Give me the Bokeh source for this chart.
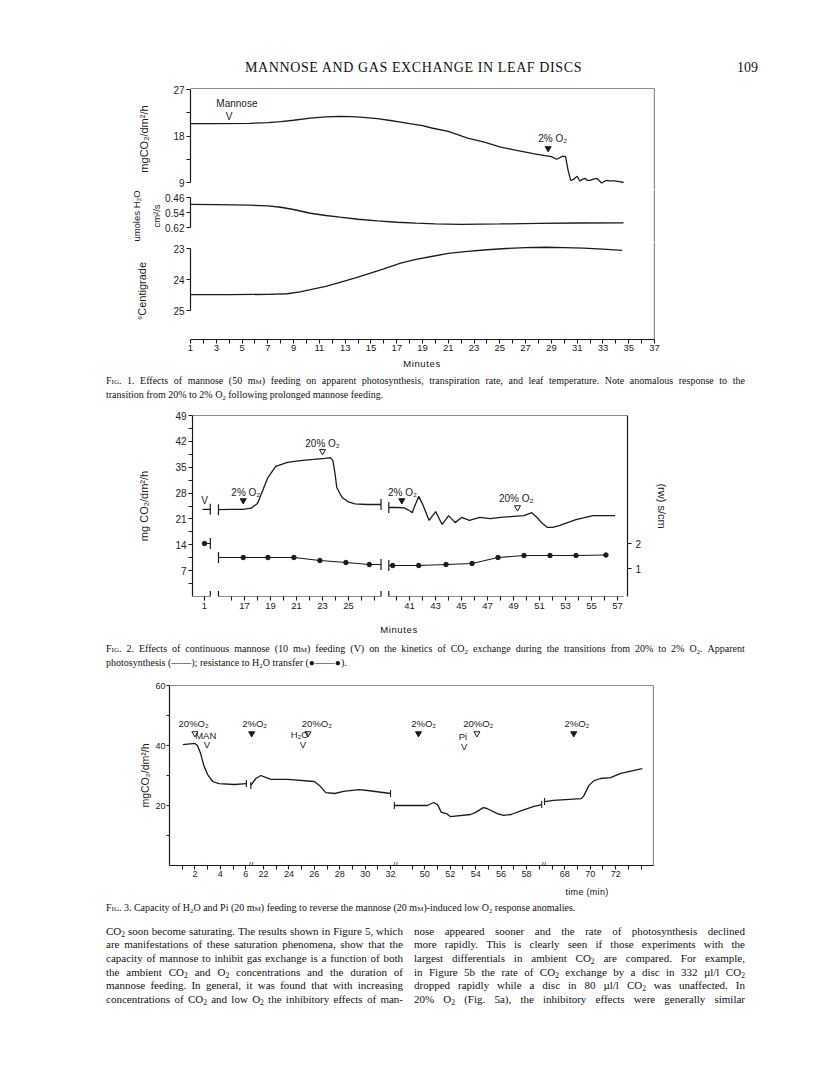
import numpy as np
from bokeh.plotting import figure
from bokeh.models import Range1d, LinearAxis, FixedTicker, Span, Div
from bokeh.layouts import column
from bokeh.embed import file_html
from bokeh.resources import INLINE
from bokeh.core.properties import value

INK = "#1b1b1b"
CF = "Liberation Sans"

# ---------------- Fig. 1 data (minutes) ----------------
f1_co2_min = [1, 3, 5.6, 7, 8, 9, 10.3, 11.5, 12.6, 13.5, 14.4, 15.5, 16.5, 17.3, 18, 19, 19.8, 21, 22.5, 23.8,
              25, 26.3, 27.6, 28.5, 29.0, 29.4, 29.9, 30.1, 30.3, 30.5, 30.7, 31.0, 31.2, 31.4, 31.6, 31.8, 32.0,
              32.2, 32.5, 32.7, 32.9, 33.1, 33.3, 33.5, 33.8, 34.2, 34.6]
f1_co2_val = [20.4, 20.4, 20.45, 20.6, 20.8, 21.05, 21.45, 21.7, 21.8, 21.75, 21.6, 21.35, 21.0, 20.7, 20.4, 20.0,
              19.5, 18.9, 17.6, 16.8, 15.9, 15.2, 14.6, 14.2, 14.0, 13.5, 14.1, 14.0, 11.3, 9.4, 9.6, 10.2, 9.3,
              9.6, 9.8, 9.4, 9.4, 9.6, 9.8, 9.4, 8.9, 9.2, 9.4, 9.3, 9.3, 9.2, 9.0]
f1_h2o_min = [1, 3, 5.6, 7, 8, 9, 10.3, 11.5, 12.6, 14, 15.5, 17, 18.5, 20, 22, 25, 28, 31, 34.6]
f1_h2o_val = [0.497, 0.498, 0.501, 0.505, 0.512, 0.524, 0.544, 0.556, 0.565, 0.576, 0.585, 0.592, 0.597, 0.601,
              0.603, 0.601, 0.598, 0.596, 0.595]
f1_temp_min = [1, 4, 7, 8.5, 9.5, 10.3, 11.5, 12.6, 13.8, 14.9, 16, 17.3, 18.5, 19.8, 21, 22.5, 24, 25.5, 27,
               28.6, 30, 31.5, 33, 34.5]
f1_temp_val = [24.49, 24.49, 24.48, 24.46, 24.40, 24.33, 24.22, 24.09, 23.95, 23.80, 23.66, 23.47, 23.35, 23.25,
               23.16, 23.09, 23.04, 23.0, 22.97, 22.96, 22.97, 22.99, 23.02, 23.06]
f1_x_labeled = list(range(1, 38, 2))
f1_x_minor = list(range(2, 37, 2))
f1_co2_ticks = [9, 18, 27]
f1_co2_minor = [13.5, 22.5]
f1_h2o_ticks = [0.46, 0.54, 0.62]
f1_temp_ticks = [23, 24, 25]
f1_note_text = ["Mannose", "V", "2% O₂"]
f1_note_min = [4.6, 4.0, 29.1]
f1_note_co2 = [24.3, 21.8, 17.5]
f1_o2_drop_min = [28.75]
f1_o2_drop_co2 = [15.6]

# ---------------- Fig. 2 data (minutes) ----------------
f2_photo_A_min = [0.85, 1.45]
f2_photo_A_val = [23.6, 23.6]
f2_photo_B_min = [15.0, 16.0, 16.9, 17.5, 18.0, 18.4, 18.8, 19.4, 20.3, 21.3, 22.3, 23.2, 23.6, 23.8, 23.95, 24.1,
                  24.5, 25.0, 25.5, 26.4, 27.5]
f2_photo_B_val = [23.5, 23.6, 23.6, 23.9, 25.2, 28.7, 32.2, 35.2, 36.3, 36.8, 37.1, 37.4, 37.6, 36.8, 33.6, 29.5,
                  26.8, 25.6, 25.1, 24.9, 24.9]
f2_photo_C_min = [39.4, 40.0, 40.6, 41.0, 41.2, 41.45, 41.7, 42.0, 42.5, 43.0, 43.5, 44.0, 44.5, 45.0, 45.6, 46.4,
                  47.2, 48.0, 49.0, 49.8, 50.4, 50.8, 51.2, 51.6, 52.0, 52.5, 53.8, 55.1, 56.8]
f2_photo_C_val = [24.1, 24.1, 24.0, 23.2, 22.7, 25.0, 27.1, 25.0, 20.6, 23.0, 19.5, 21.9, 20.0, 21.4, 20.6, 21.4,
                  21.1, 21.4, 21.7, 21.9, 22.7, 21.4, 19.8, 18.7, 18.7, 19.2, 20.8, 21.9, 21.9]
f2_res_A_min = [1.0]
f2_res_A_val = [2.0]
f2_res_B_min = [16.9, 18.8, 20.8, 22.8, 24.8, 26.6]
f2_res_B_val = [1.44, 1.44, 1.44, 1.32, 1.24, 1.16]
f2_res_C_min = [39.7, 41.7, 43.8, 45.8, 47.8, 49.8, 51.8, 53.8, 56.1]
f2_res_C_val = [1.12, 1.12, 1.16, 1.2, 1.44, 1.52, 1.52, 1.52, 1.54]
f2_y_ticks = [7, 14, 21, 28, 35, 42, 49]
f2_y_minor = [3.5, 10.5, 17.5, 24.5, 31.5, 38.5, 45.5]
f2_r_ticks = [1, 2]
f2_x_labeled = [1, 17, 19, 21, 23, 25, 41, 43, 45, 47, 49, 51, 53, 55, 57]
f2_x_minor = [16, 18, 20, 22, 24, 26, 27, 40, 42, 44, 46, 48, 50, 52, 54, 56]
f2_note_text = ["V", "2% O₂", "20% O₂", "2% O₂", "20% O₂"]
f2_note_min = [1.0, 17.1, 23.0, 40.45, 49.2]
f2_note_val = [26.0, 28.2, 41.4, 28.2, 26.5]
f2_closed_min = [16.9, 40.4]
f2_closed_val = [26.0, 26.0]
f2_open_min = [23.0, 49.3]
f2_open_val = [39.3, 24.1]

# ---------------- Fig. 3 data (minutes) ----------------
f3_s1_min = [1.05, 2.0, 2.2, 2.45, 2.7, 3.0, 3.4, 3.9, 5.1, 6.05]
f3_s1_val = [40.3, 40.7, 40.0, 37.3, 33.3, 30.3, 28.0, 27.3, 27.0, 27.3]
f3_s2_min = [21.0, 21.4, 21.8, 22.2, 22.6, 23.9, 26.0, 26.4, 26.9, 27.6, 28.3, 29.5, 30.2, 32.0]
f3_s2_val = [26.7, 29.0, 30.0, 29.3, 28.7, 28.7, 28.0, 26.7, 24.3, 24.0, 24.7, 25.3, 25.0, 24.0]
f3_s3_min = [47.6, 49.1, 50.2, 50.7, 51.0, 51.3, 51.7, 52.0, 53.6, 54.0, 54.6, 54.9, 55.7, 56.2, 56.8, 57.6,
             58.6, 59.2]
f3_s3_val = [20.0, 20.0, 20.0, 21.0, 20.3, 17.7, 17.3, 16.3, 17.0, 17.7, 19.3, 19.0, 17.3, 16.7, 17.0, 18.3,
             19.7, 20.3]
f3_s4_min = [66.4, 67.1, 69.3, 69.5, 69.9, 70.3, 70.8, 71.6, 72.4, 74.1]
f3_s4_val = [21.3, 21.7, 22.3, 23.3, 26.7, 28.3, 29.0, 29.3, 30.7, 32.3]
f3_y_ticks = [20, 40, 60]
f3_y_minor = [10, 30, 50]
f3_x_labeled = [2, 4, 6, 22, 24, 26, 28, 30, 32, 50, 52, 54, 56, 58, 68, 70, 72]
f3_x_minor = [1, 3, 5, 23, 25, 27, 29, 31, 49, 51, 53, 55, 57, 59, 67, 69, 71, 73, 74]
f3_note_text = ["20%O₂", "MAN", "V", "2%O₂", "20%O₂", "H₂O", "V", "2%O₂", "20%O₂", "Pi", "V", "2%O₂"]
f3_note_min = [1.9, 2.85, 2.95, 21.3, 26.2, 24.85, 25.1, 49.9, 54.2, 53.0, 53.1, 68.95]
f3_note_val = [47.3, 43.3, 40.5, 47.3, 47.3, 43.8, 40.2, 47.3, 47.3, 43.0, 39.7, 47.3]
f3_closed_min = [21.07, 49.5, 68.7]
f3_closed_val = [44.0, 44.0, 44.0]
f3_open_min = [2.0, 25.5, 54.1]
f3_open_val = [44.0, 44.0, 44.0]

# ---------------- layout helpers ----------------
def span_range(v1, p1, v2, p2, top, bot):
    k = (p2 - p1) / (v2 - v1)
    return Range1d(start=v1 + (bot - p1) / k, end=v1 + (top - p1) / k)


def to_xp(ms, lo, hi, shift):
    out = []
    for m in ms:
        for a, b, s in zip(lo, hi, shift):
            if a - 0.6 <= m <= b + 0.6:
                out.append(round(m - s, 4))
                break
        else:
            raise ValueError(m)
    return out


def base_fig(w, h, l, r, t, b, xr, yr):
    p = figure(width=w, height=h, x_range=xr, y_range=yr, min_border_left=l, min_border_right=r,
               min_border_top=t, min_border_bottom=b, x_axis_location=None, y_axis_location=None,
               toolbar_location=None, tools="", output_backend="svg", margin=0)
    p.frame_align = False
    p.outline_line_color = None
    p.grid.visible = False
    p.background_fill_color = "white"
    p.border_fill_color = "white"
    return p


def style_axis(ax, fs="10px", afs="11px", tick=4, standoff=2, astand=4):
    ax.major_label_text_font = CF
    ax.major_label_text_font_size = fs
    ax.major_label_text_color = INK
    ax.major_tick_out = tick
    ax.major_tick_in = 0
    ax.minor_tick_out = tick
    ax.minor_tick_in = 0
    ax.major_tick_line_color = INK
    ax.minor_tick_line_color = INK
    ax.major_tick_line_width = 1.1
    ax.minor_tick_line_width = 1.1
    ax.axis_line_color = INK
    ax.axis_line_width = 1.2
    ax.major_label_standoff = standoff
    ax.axis_label_text_font = CF
    ax.axis_label_text_font_style = "normal"
    ax.axis_label_text_font_size = afs
    ax.axis_label_text_color = INK
    ax.axis_label_standoff = astand


def notes(p, xs, ys, texts, size="10px", **kw):
    p.text(x=xs, y=ys, text=texts, text_align="center", text_baseline="middle",
           text_font=value(CF), text_font_size=size, text_color=INK, **kw)


def border(p, loc, dim):
    p.add_layout(Span(location=loc, dimension=dim, line_color=INK, line_width=1.2))


LW = 1.3
W = 808

# ================= FIG 1 (three stacked panels sharing x) =================
x1 = Range1d(1, 37)
# panel a: CO2 exchange, frame rows 88..189
p1a = base_fig(W, 109, 190, 154, 8, 0, x1, span_range(27, 89, 9, 182, 88, 189))
ax = LinearAxis(bounds=(9, 27), ticker=FixedTicker(ticks=f1_co2_ticks, minor_ticks=f1_co2_minor),
                axis_label="mgCO₂/dm²/h")
style_axis(ax, astand=20)
p1a.add_layout(ax, "left")
border(p1a, p1a.y_range.end, "width")
border(p1a, 37, "height")
p1a.line(f1_co2_min, f1_co2_val, line_color=INK, line_width=LW)
notes(p1a, f1_note_min, f1_note_co2, f1_note_text)
p1a.scatter(f1_o2_drop_min, f1_o2_drop_co2, marker="inverted_triangle", size=6, color=INK)

# panel b: transpiration, frame rows 189..242
p1b = base_fig(W, 53, 190, 154, 0, 0, x1, span_range(0.46, 197, 0.62, 227, 189, 242))
ax = LinearAxis(bounds=(0.46, 0.62), ticker=FixedTicker(ticks=f1_h2o_ticks), axis_label="umoles H₂O\ncm²/s")
style_axis(ax, afs="9.5px", astand=0)
ax.axis_label_text_line_height = 1.8
p1b.add_layout(ax, "left")
border(p1b, 37, "height")
p1b.line(f1_h2o_min, f1_h2o_val, line_color=INK, line_width=LW)

# panel c: leaf temperature, frame rows 242..339 + x axis
p1c = base_fig(W, 115, 190, 154, 0, 18, x1, span_range(23, 248, 25, 310, 242, 339))
ax = LinearAxis(bounds=(23, 25), ticker=FixedTicker(ticks=f1_temp_ticks), axis_label="°Centigrade")
style_axis(ax, astand=22)
p1c.add_layout(ax, "left")
ax = LinearAxis(ticker=FixedTicker(ticks=f1_x_labeled, minor_ticks=f1_x_minor))
style_axis(ax, fs="9.5px", standoff=1)
p1c.add_layout(ax, "below")
border(p1c, 37, "height")
p1c.line(f1_temp_min, f1_temp_val, line_color=INK, line_width=LW)

# ================= FIG 2 =================
f2_lo = [0.08, 15.0, 39.4]
f2_hi = [1.45, 27.5, 57.46]
f2_shift = [-12.92, 0.0, 11.3]


def xp2(ms):
    return to_xp(ms, f2_lo, f2_hi, f2_shift)


p2 = base_fig(W, 216, 192, 181, 11, 24, Range1d(13.0, 46.46), Range1d(0, 49))
p2.extra_y_ranges = {"res": span_range(1, 568, 2, 543, 415, 596)}

ax = LinearAxis(bounds=(0, 49), ticker=FixedTicker(ticks=f2_y_ticks, minor_ticks=f2_y_minor),
                axis_label="mg CO₂/dm²/h")
style_axis(ax, astand=22)
p2.add_layout(ax, "left")
ax = LinearAxis(y_range_name="res", ticker=FixedTicker(ticks=f2_r_ticks), axis_label="(rw) s/cm")
style_axis(ax, standoff=4, astand=12)
p2.add_layout(ax, "right")
xt = xp2(f2_x_labeled)
ax = LinearAxis(ticker=FixedTicker(ticks=xt, minor_ticks=xp2(f2_x_minor)),
                major_label_overrides={t: str(m) for t, m in zip(xt, f2_x_labeled)})
style_axis(ax, fs="9.5px", standoff=2)
ax.axis_line_color = None
p2.add_layout(ax, "below")
border(p2, 49, "width")

p2.segment(x0=xp2(f2_lo), y0=[0] * 3, x1=xp2(f2_hi), y1=[0] * 3, line_color=INK, line_width=1.2)
brk_m = [f2_hi[0], f2_lo[1], f2_hi[1], f2_lo[2]]
p2.scatter(xp2(brk_m), [0] * 4, marker="dash", angle=np.pi / 2, size=11, line_color=INK, line_width=1.2)

for ms, vs in [(f2_photo_A_min, f2_photo_A_val), (f2_photo_B_min, f2_photo_B_val),
               (f2_photo_C_min, f2_photo_C_val)]:
    p2.line(xp2(ms), vs, line_color=INK, line_width=LW)
p2.scatter(xp2([f2_photo_A_min[-1], f2_photo_B_min[0], f2_photo_B_min[-1], f2_photo_C_min[0]]),
           [f2_photo_A_val[-1], f2_photo_B_val[0], f2_photo_B_val[-1], f2_photo_C_val[0]],
           marker="dash", angle=np.pi / 2, size=11, line_color=INK, line_width=1.2)

rA_x = f2_res_A_min + [f2_hi[0]]
rA_y = f2_res_A_val + [f2_res_A_val[-1]]
rB_x = [f2_lo[1]] + f2_res_B_min + [f2_hi[1]]
rB_y = [f2_res_B_val[0]] + f2_res_B_val + [f2_res_B_val[-1]]
rC_x = [f2_lo[2]] + f2_res_C_min
rC_y = [f2_res_C_val[0]] + f2_res_C_val
for xs, ys in [(rA_x, rA_y), (rB_x, rB_y), (rC_x, rC_y)]:
    p2.line(xp2(xs), ys, line_color=INK, line_width=1.2, y_range_name="res")
p2.scatter(xp2(f2_res_A_min + f2_res_B_min + f2_res_C_min), f2_res_A_val + f2_res_B_val + f2_res_C_val,
           marker="circle", size=4.5, color=INK, y_range_name="res")
p2.scatter(xp2([rA_x[-1], rB_x[0], rB_x[-1], rC_x[0]]), [rA_y[-1], rB_y[0], rB_y[-1], rC_y[0]],
           marker="dash", angle=np.pi / 2, size=11, line_color=INK, line_width=1.2, y_range_name="res")

notes(p2, xp2(f2_note_min), f2_note_val, f2_note_text)
p2.scatter(xp2(f2_closed_min), f2_closed_val, marker="inverted_triangle", size=6, color=INK)
p2.scatter(xp2(f2_open_min), f2_open_val, marker="inverted_triangle", size=6, fill_color=None,
           line_color=INK, line_width=1)

# ================= FIG 3 =================
f3_lo = [0.0, 20.5, 47.3, 66.0]
f3_hi = [6.3, 32.4, 59.5, 75.0]
f3_shift = [0.0, 14.6, 29.9, 36.88]
f3_breaks = [6.4, 17.75, 29.45]  # x positions of the '//' marks


def xp3(ms):
    return to_xp(ms, f3_lo, f3_hi, f3_shift)


p3 = base_fig(W, 208, 169, 155, 9, 19, Range1d(0, 38.1), Range1d(0, 60))
ax = LinearAxis(bounds=(0, 60), ticker=FixedTicker(ticks=f3_y_ticks, minor_ticks=f3_y_minor),
                axis_label="mgCO₂/dm²/h")
style_axis(ax, fs="9px", afs="10.5px", tick=3, standoff=1, astand=1)
p3.add_layout(ax, "left")
xt = xp3(f3_x_labeled)
ax = LinearAxis(ticker=FixedTicker(ticks=xt, minor_ticks=xp3(f3_x_minor)),
                major_label_overrides={t: str(m) for t, m in zip(xt, f3_x_labeled)})
style_axis(ax, fs="9px", standoff=1)
p3.add_layout(ax, "below")
border(p3, 60, "width")
border(p3, 38.1, "height")
p3.text(x=f3_breaks, y=[0] * 3, text=["//"] * 3, text_align="center", text_baseline="middle",
        text_font=value(CF), text_font_size="9px", text_color=INK)

segs3 = [(f3_s1_min, f3_s1_val), (f3_s2_min, f3_s2_val), (f3_s3_min, f3_s3_val), (f3_s4_min, f3_s4_val)]
for ms, vs in segs3:
    p3.line(xp3(ms), vs, line_color=INK, line_width=LW)
bx = [f3_s1_min[-1], f3_s2_min[0], f3_s2_min[-1], f3_s3_min[0], f3_s3_min[-1], f3_s4_min[0]]
by = [f3_s1_val[-1], f3_s2_val[0], f3_s2_val[-1], f3_s3_val[0], f3_s3_val[-1], f3_s4_val[0]]
p3.scatter(xp3(bx), by, marker="dash", angle=np.pi / 2, size=7, line_color=INK, line_width=1.1)
notes(p3, xp3(f3_note_min), f3_note_val, f3_note_text, size="9.5px")
p3.scatter(xp3(f3_closed_min), f3_closed_val, marker="inverted_triangle", size=6, color=INK)
p3.scatter(xp3(f3_open_min), f3_open_val, marker="inverted_triangle", size=6, fill_color=None,
           line_color=INK, line_width=1)

# ================= TEXT =================
SERIF = "'Liberation Serif','Times New Roman',serif"
SANS = "'Liberation Sans',Arial,sans-serif"
STYLE = "<style>sub{font-size:68%;vertical-align:-0.3em;line-height:0}</style>"


def fmt(word):
    word = word.replace("_2", "<sub>2</sub>")
    word = word.replace("mM", "m<span style='font-variant:small-caps'>m</span>")
    word = word.replace("FIG.", "<span style='font-variant:small-caps'>Fig.</span>")
    return word


def jline(text, left, top, width, size):
    spans = "".join(f"<span>{fmt(w)}</span>" for w in text.split(" "))
    return (f'<div style="position:absolute;left:{left}px;top:{top}px;width:{width}px;display:flex;'
            f'justify-content:space-between;white-space:nowrap;font-family:{SERIF};font-size:{size}px;'
            f'line-height:{size + 3}px;color:#111">{spans}</div>')


def pline(text, left, top, size, family=SERIF, extra=""):
    body = " ".join(fmt(w) for w in text.split(" "))
    return (f'<div style="position:absolute;left:{left}px;top:{top}px;white-space:nowrap;font-family:{family};'
            f'font-size:{size}px;line-height:{size + 3}px;color:#111;{extra}">{body}</div>')


def cline(text, center, top, size, family=SANS, extra=""):
    return (f'<div style="position:absolute;left:{center - 100}px;top:{top}px;width:200px;text-align:center;'
            f'white-space:nowrap;font-family:{family};font-size:{size}px;line-height:{size + 3}px;color:#111;'
            f'{extra}">{text}</div>')


def box(h, inner):
    return Div(text=STYLE + f'<div style="position:relative;width:{W}px;height:{h}px">{inner}</div>',
               width=W, height=h, margin=0, styles={"overflow": "visible"})


header = "MANNOSE AND GAS EXCHANGE IN LEAF DISCS"
divA = box(80, pline(header, 245, 59, 14, extra="letter-spacing:0.6px") + pline("109", 737, 59, 14))

cap1 = ["FIG. 1. Effects of mannose (50 mM) feeding on apparent photosynthesis, transpiration rate, and leaf "
        "temperature. Note anomalous response to the",
        "transition from 20% to 2% O_2 following prolonged mannose feeding."]
divB = box(47, cline("Minutes", 422, 1, 9.5, extra="letter-spacing:0.6px")
           + jline(cap1[0], 106, 17, 639, 10) + pline(cap1[1], 106, 31, 10))

cap2 = ["FIG. 2. Effects of continuous mannose (10 mM) feeding (V) on the kinetics of CO_2 exchange during the "
        "transitions from 20% to 2% O_2. Apparent",
        "photosynthesis (——); resistance to H_2O transfer (●——●)."]
divC = box(56, cline("Minutes", 399, 4, 9.5, extra="letter-spacing:0.6px")
           + jline(cap2[0], 106, 22, 639, 10) + pline(cap2[1], 106, 36, 10))

cap3 = "FIG. 3. Capacity of H_2O and Pi (20 mM) feeding to reverse the mannose (20 mM)-induced low O_2 response anomalies."
body_left = [
    "CO_2 soon become saturating. The results shown in Figure 5, which",
    "are manifestations of these saturation phenomena, show that the",
    "capacity of mannose to inhibit gas exchange is a function of both",
    "the ambient CO_2 and O_2 concentrations and the duration of",
    "mannose feeding. In general, it was found that with increasing",
    "concentrations of CO_2 and low O_2 the inhibitory effects of man-",
]
body_right = [
    "nose appeared sooner and the rate of photosynthesis declined",
    "more rapidly. This is clearly seen if those experiments with the",
    "largest differentials in ambient CO_2 are compared. For example,",
    "in Figure 5b the rate of CO_2 exchange by a disc in 332 µl/l CO_2",
    "dropped rapidly while a disc in 80 µl/l CO_2 was unaffected. In",
    "20% O_2 (Fig. 5a), the inhibitory effects were generally similar",
]
inner = cline("time (min)", 587, 2, 9, extra="letter-spacing:0.3px") + pline(cap3, 106, 17, 10)
for i, (l, r) in enumerate(zip(body_left, body_right)):
    top = 39.5 + 13.7 * i
    inner += jline(l, 106, top, 297, 11) + jline(r, 414, top, 331, 11)
divD = box(181, inner)

layout = column(divA, p1a, p1b, p1c, divB, p2, divC, p3, divD, spacing=0, margin=0)
open("out.html", "w").write(file_html(layout, INLINE))
